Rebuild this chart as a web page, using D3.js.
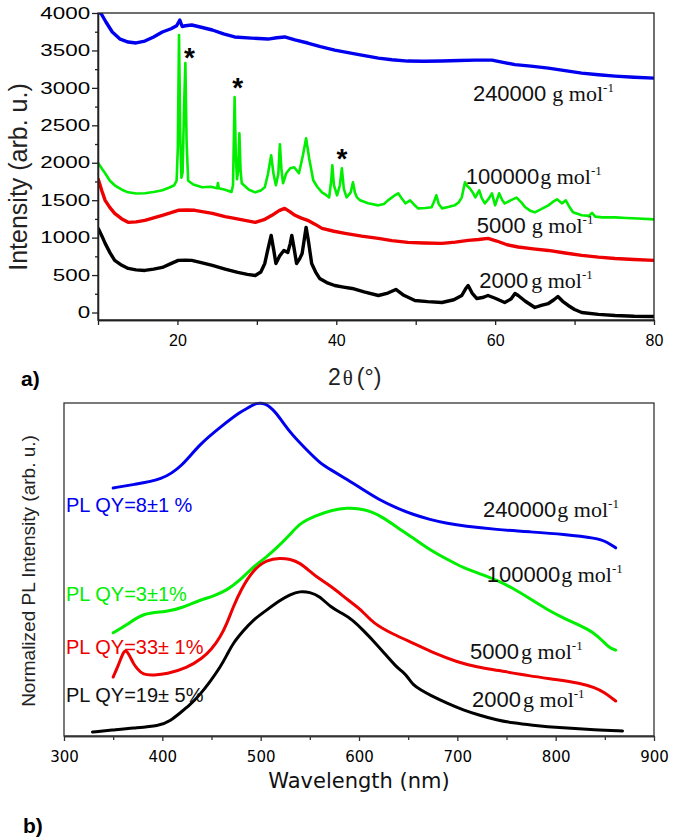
<!DOCTYPE html>
<html>
<head>
<meta charset="utf-8">
<script src="https://cdn.jsdelivr.net/npm/d3@7"></script>
<style>
  body { margin: 0; background: #fff; }
  text { font-family: "Liberation Sans", Arial, sans-serif; }
</style>
</head>
<body>
<div id="chart"></div>
<script>
// ---- panel a) XRD, [2theta, intensity] ----
const xrdBlue = [[10,4020],[10.4,3990],[11.0,3880],[11.8,3746],[12.8,3650],[13.8,3612],[14.8,3600],[15.9,3625],[17.0,3680],[18.1,3746],[19.2,3790],[19.9,3830],[20.3,3906],[20.6,3820],[21.0,3830],[21.8,3840],[23.0,3810],[24.4,3773],[25.8,3720],[27.2,3680],[29.3,3665],[31.4,3652],[32.5,3670],[33.5,3680],[34.8,3640],[36.4,3599],[38.0,3550],[39.8,3505],[42.5,3450],[45.3,3398],[47.0,3375],[49.0,3358],[51.0,3355],[53.3,3358],[55.5,3365],[57.5,3371],[59.6,3371],[61.0,3340],[62.5,3310],[64.5,3290],[66.7,3264],[68.8,3230],[70.9,3197],[73.0,3175],[75.1,3157],[77.5,3142],[80,3130]];
const xrdGreen = [[10,2000],[10.5,1920],[10.9,1860],[11.5,1760],[12.1,1699],[13.0,1640],[13.8,1605],[14.8,1590],[15.9,1592],[17.0,1610],[18.1,1632],[19.0,1670],[19.6,1700],[19.9,1760],[20.05,2200],[20.2,3706],[20.35,2400],[20.5,1800],[20.65,1870],[20.85,2800],[21.0,3331],[21.15,2300],[21.35,1760],[22.0,1710],[23.1,1672],[24.2,1680],[25.0,1660],[25.1,1730],[25.2,1660],[26.0,1640],[26.8,1610],[27.0,1700],[27.1,2300],[27.2,2876],[27.35,2100],[27.5,1780],[27.65,1900],[27.8,2395],[27.95,1900],[28.1,1726],[29.0,1640],[29.8,1605],[30.5,1630],[31.0,1672],[31.4,1850],[31.8,2100],[32.1,1850],[32.4,1699],[32.7,1850],[32.9,2248],[33.1,1900],[33.3,1726],[33.7,1860],[34.2,1926],[34.7,1940],[35.3,1860],[35.8,2100],[36.2,2328],[36.6,2050],[37.1,1766],[37.6,1680],[38.2,1605],[38.7,1570],[39.1,1538],[39.35,1750],[39.5,1967],[39.7,1700],[40.1,1565],[40.45,1700],[40.7,1926],[40.95,1650],[41.3,1538],[41.8,1600],[42.1,1739],[42.35,1600],[42.6,1538],[43.0,1498],[44.0,1460],[45.3,1431],[46.0,1450],[46.5,1498],[47.3,1560],[47.8,1592],[48.2,1530],[48.7,1458],[49.3,1498],[49.8,1440],[50.3,1391],[51.2,1395],[52.0,1405],[52.3,1480],[52.6,1565],[52.9,1450],[53.3,1391],[54.1,1410],[54.9,1431],[55.4,1470],[55.8,1538],[56.2,1739],[56.5,1690],[56.8,1659],[57.2,1600],[57.5,1538],[58.0,1632],[58.3,1530],[58.7,1458],[59.2,1520],[59.6,1592],[60.0,1431],[60.5,1592],[60.9,1500],[61.2,1458],[62.0,1500],[62.7,1535],[63.3,1470],[63.8,1405],[64.4,1360],[65.0,1338],[65.8,1380],[66.7,1431],[67.3,1480],[67.8,1511],[68.4,1458],[68.9,1498],[69.3,1420],[69.8,1338],[70.9,1298],[71.8,1290],[72.2,1330],[72.6,1280],[73.5,1271],[75.1,1271],[76.5,1262],[78.0,1255],[80,1244]];
const xrdRed = [[10,1790],[10.5,1620],[10.9,1498],[11.5,1400],[12.1,1324],[13.0,1250],[13.8,1204],[14.8,1210],[15.9,1231],[17.0,1265],[18.1,1298],[19.1,1330],[20.1,1365],[21.2,1370],[22.2,1365],[23.3,1345],[24.4,1324],[26.0,1280],[27.2,1258],[28.5,1230],[29.8,1204],[30.9,1240],[31.9,1298],[32.8,1360],[33.5,1391],[34.1,1350],[34.8,1298],[35.6,1260],[36.4,1231],[37.3,1180],[38.2,1124],[39.7,1085],[41.1,1057],[43.2,1020],[45.3,990],[47.0,960],[49.0,936],[51.0,928],[53.3,923],[55.0,940],[56.6,963],[57.9,975],[59.1,990],[60.2,955],[61.5,905],[62.9,875],[64.8,850],[66.7,829],[68.8,795],[70.9,763],[73.0,740],[75.1,722],[77.5,708],[80,696]];
const xrdBlack = [[10,1130],[10.5,1020],[10.9,923],[11.5,800],[12.1,696],[13.0,630],[13.8,589],[14.8,570],[15.9,562],[17.0,580],[18.1,602],[19.1,650],[20.1,696],[21.0,700],[21.8,696],[23.0,665],[24.4,629],[26.0,580],[27.6,535],[28.8,510],[29.8,495],[30.5,540],[31.0,655],[31.4,850],[31.8,1030],[32.1,850],[32.4,655],[32.9,760],[33.4,829],[33.9,803],[34.2,920],[34.4,1030],[34.7,850],[35.0,655],[35.4,720],[35.7,789],[36.0,1000],[36.2,1137],[36.5,950],[36.9,655],[37.4,540],[37.9,455],[38.8,400],[39.8,361],[40.9,340],[42.0,321],[43.5,275],[45.3,227],[46.5,260],[47.5,308],[48.5,230],[49.9,160],[51.5,145],[53.3,134],[54.8,170],[55.8,227],[56.3,320],[56.6,361],[57.1,260],[57.7,187],[58.4,200],[59.1,227],[60.0,190],[61.2,134],[62.0,180],[62.5,254],[62.9,227],[63.8,150],[65.0,67],[65.8,95],[66.7,120],[67.4,170],[67.9,214],[68.5,150],[69.2,94],[70.0,40],[70.9,0],[73.0,-25],[75.1,-40],[77.5,-50],[80,-54]];
const xrdTicks = [20, 40, 60, 80];
const xrdMinorTicks = [10, 30, 50, 70];
const intensityTicks = [0, 500, 1000, 1500, 2000, 2500, 3000, 3500, 4000];
const intensityMinorTicks = [250, 750, 1250, 1750, 2250, 2750, 3250, 3750];
const xrdLabels = ["240000", "100000", "5000", "2000"];
const starPeaks = [[21.5, 3465], [27.6, 3064], [40.7, 2117]];

// ---- panel b) PL, [wavelength nm, normalized intensity] ----
const plBlue = [[350,74.5],[370,75.5],[400,76.9],[420,81],[437,87.4],[460,93],[480,97.5],[489,98.8],[495,100],[505,100],[515,97.5],[530,91],[545,86.5],[560,82],[571,80],[588,77],[604,74],[620,71],[638,68.5],[655,66.5],[672,65],[690,63.8],[707,63],[740,62],[774,61.3],[808,60.6],[842,59.4],[852,58.3],[861,56.5]];
const plGreen = [[350,31],[364,33.3],[380,37],[404,37.2],[420,38.5],[438,40.8],[452,42],[466,43.8],[480,47],[492,50.7],[505,53.5],[517,56.7],[530,60.5],[540,64],[556,66.2],[573,67.9],[588,68.5],[600,68.3],[614,67.3],[625,65.5],[638,62.8],[655,59.5],[672,55.9],[690,53],[706,50.5],[723,48.7],[740,46.8],[757,44.3],[774,41.2],[790,38.2],[808,35.4],[825,33.2],[838,31.2],[848,28.5],[855,26.4],[861,25.8]];
const plRed = [[350,17.7],[355,21],[360,25],[363,26],[367,24],[371,21.5],[374,20.4],[380,18.3],[392,18.3],[404,18.6],[425,20.4],[441,23.4],[450,26],[459,29.7],[466,34],[472,38.7],[480,44],[492,49.8],[506,52.9],[520,53.5],[530,53.1],[540,52],[550,49.5],[557,47.7],[573,44.7],[590,40.5],[603,37.8],[614,33.9],[635,30.5],[655,27.9],[677,24.8],[700,22.2],[720,20.7],[740,19.8],[774,18],[800,17],[825,15.9],[840,14.5],[849,13.2],[861,10.5]];
const plBlack = [[329,1.2],[350,1.8],[370,2.4],[397,3],[408,4.5],[418,6.9],[428,9.3],[438,12.3],[449,16.5],[459,20.7],[466,24.5],[472,27.9],[482,31.5],[492,34.8],[506,37.8],[520,40.8],[530,42.5],[540,43.5],[550,43.2],[560,42],[571,38.7],[582,37],[594,34.8],[604,31.8],[614,28.8],[626,24.8],[638,20.7],[645,19.2],[650,17.5],[655,15.3],[663,13.8],[672,12.3],[690,9.8],[706,7.8],[723,6.2],[740,4.8],[757,3.9],[774,3.3],[808,2.4],[840,1.8],[868,1.5]];
const wlTicks = [300, 400, 500, 600, 700, 800, 900];
const wlMinorTicks = [350, 450, 550, 650, 750, 850];
const qyLabels = ["PL QY=8±1 %", "PL QY=3±1%", "PL QY=33± 1%", "PL QY=19± 5%"];

const colors = ["#0000ee", "#00ee00", "#ee0000", "#000000"];
const serif = "'Liberation Serif','Times New Roman',serif";

const svg = d3.select("#chart")
    .append("svg")
    .attr("width", 675)
    .attr("height", 839);

// molar mass label: sans number + serif "g mol^-1"
function mwLabel(x, y, num, gap) {
    const t = svg.append("text")
        .attr("x", x)
        .attr("y", y)
        .style("font-size", "22px")
        .attr("fill", "#111");
    t.append("tspan").text(num);
    t.append("tspan").attr("dx", gap).style("font-family", serif).text("g mol");
    t.append("tspan").attr("dy", -9).style("font-family", serif).style("font-size", "13px").text("-1");
}

// ================= panel a =================
const xA = d3.scaleLinear().domain([10, 80]).range([98, 654]);
const yA = d3.scaleLinear().domain([-100, 4000]).range([320, 13]);

svg.append("clipPath").attr("id", "clipA")
    .append("rect").attr("x", 98).attr("y", 13).attr("width", 556).attr("height", 307);

const lineA = d3.line().x(d => xA(d[0])).y(d => yA(d[1]));

const seriesA = [xrdBlue, xrdGreen, xrdRed, xrdBlack];
seriesA.forEach((s, i) => {
    svg.append("path")
        .datum(s)
        .attr("clip-path", "url(#clipA)")
        .attr("fill", "none")
        .attr("stroke", colors[i])
        .attr("stroke-width", i === 1 ? 2.6 : 3.4)
        .attr("stroke-linejoin", "round")
        .attr("d", lineA);
});

// x axis
const gxA = svg.append("g").attr("transform", "translate(0,320)")
    .call(d3.axisBottom(xA).tickValues(xrdTicks).tickSize(5).tickSizeOuter(0).tickPadding(10));
svg.append("g").attr("transform", "translate(0,320)")
    .call(d3.axisBottom(xA).tickValues(xrdMinorTicks).tickSize(5).tickSizeOuter(0).tickFormat(""));
gxA.selectAll("text").style("font-size", "16px");

// y axis
const gyA = svg.append("g").attr("transform", "translate(98,0)")
    .call(d3.axisLeft(yA).tickValues(intensityTicks).tickFormat(d3.format("d")).tickSize(6).tickSizeOuter(0));
svg.append("g").attr("transform", "translate(98,0)")
    .call(d3.axisLeft(yA).tickValues(intensityMinorTicks).tickSize(3).tickSizeOuter(0).tickFormat(""));
gyA.selectAll("text")
    .style("font-size", "16px")
    .attr("x", -5.6)
    .attr("transform", "scale(1.4,1)");

svg.selectAll(".domain, .tick line").attr("stroke", "#222").attr("stroke-width", 1.3);

svg.append("rect")
    .attr("x", 98).attr("y", 13).attr("width", 556).attr("height", 307)
    .attr("fill", "none").attr("stroke", "#222").attr("stroke-width", 1.3);

// labels
mwLabel(xA(57.2), yA(2825), xrdLabels[0], 6);
mwLabel(xA(56.3), yA(1716), xrdLabels[1], 1);
mwLabel(xA(57.7), yA(1062), xrdLabels[2], 6);
mwLabel(xA(58.0), yA(327), xrdLabels[3], 3);

svg.selectAll(".star")
    .data(starPeaks)
    .enter()
    .append("text")
    .attr("x", d => xA(d[0]))
    .attr("y", d => yA(d[1]) + 14)
    .attr("text-anchor", "middle")
    .style("font-size", "28px")
    .style("font-weight", "bold")
    .text("*");

svg.append("text")
    .attr("transform", "translate(27,177) rotate(-90)")
    .attr("text-anchor", "middle")
    .style("font-size", "25px")
    .attr("fill", "#222")
    .text("Intensity (arb. u.)");

const t2 = svg.append("text").attr("x", 328).attr("y", 385).style("font-size", "23px").attr("fill", "#222");
t2.append("tspan").text("2");
t2.append("tspan").attr("dx", 2).style("font-family", serif).style("font-size", "21px").text("θ");
t2.append("tspan").attr("dx", 4).text("(°)");

svg.append("text").attr("x", 21).attr("y", 386)
    .style("font-size", "21px").style("font-weight", "bold").text("a)");

// ================= panel b =================
const xB = d3.scaleLinear().domain([300, 900]).range([64, 654]);
const yB = d3.scaleLinear().domain([0, 100]).range([736, 403]);

const lineB = d3.line().curve(d3.curveBasis).x(d => xB(d[0])).y(d => yB(d[1]));

[plBlue, plGreen, plRed, plBlack].forEach((s, i) => {
    svg.append("path")
        .datum(s)
        .attr("fill", "none")
        .attr("stroke", colors[i])
        .attr("stroke-width", 3)
        .attr("stroke-linecap", "round")
        .attr("stroke-linejoin", "round")
        .attr("d", lineB);
});

const gxB = svg.append("g").attr("class", "axb").attr("transform", "translate(0,736)")
    .call(d3.axisBottom(xB).tickValues(wlTicks).tickSize(5).tickSizeOuter(0).tickPadding(10.5));
svg.append("g").attr("class", "axb").attr("transform", "translate(0,736)")
    .call(d3.axisBottom(xB).tickValues(wlMinorTicks).tickSize(4).tickSizeOuter(0).tickFormat(""));
gxB.selectAll("text").style("font-family", "'DejaVu Sans',sans-serif").style("font-size", "15px");
svg.selectAll(".axb .domain, .axb .tick line").attr("stroke", "#333").attr("stroke-width", 1.3);

svg.append("rect")
    .attr("x", 64).attr("y", 403).attr("width", 590).attr("height", 333)
    .attr("fill", "none").attr("stroke", "#333").attr("stroke-width", 1.3);

// PL QY labels
const qyPos = [[302, 67.3], [302, 40.5], [302, 24.6], [302, 10.2]];
qyLabels.forEach((q, i) => {
    svg.append("text")
        .attr("x", xB(qyPos[i][0]))
        .attr("y", yB(qyPos[i][1]))
        .style("font-size", "20px")
        .attr("fill", colors[i] === "#000000" ? "#111" : colors[i])
        .text(q);
});

mwLabel(xB(726), yB(65.8), xrdLabels[0], 1);
mwLabel(xB(730), yB(46.2), xrdLabels[1], 1);
mwLabel(xB(713), yB(23.1), xrdLabels[2], 2);
mwLabel(xB(715), yB(8.7), xrdLabels[3], 2);

svg.append("text")
    .attr("transform", "translate(35,571) rotate(-90)")
    .attr("text-anchor", "middle")
    .style("font-size", "19px")
    .attr("fill", "#222")
    .text("Normalized PL Intensity (arb. u.)");

svg.append("text")
    .attr("x", 359).attr("y", 788)
    .attr("text-anchor", "middle")
    .style("font-family", "'DejaVu Sans',sans-serif")
    .style("font-size", "21px")
    .attr("fill", "#111")
    .text("Wavelength (nm)");

svg.append("text").attr("x", 23).attr("y", 833)
    .style("font-size", "21px").style("font-weight", "bold").text("b)");
</script>
</body>
</html>
